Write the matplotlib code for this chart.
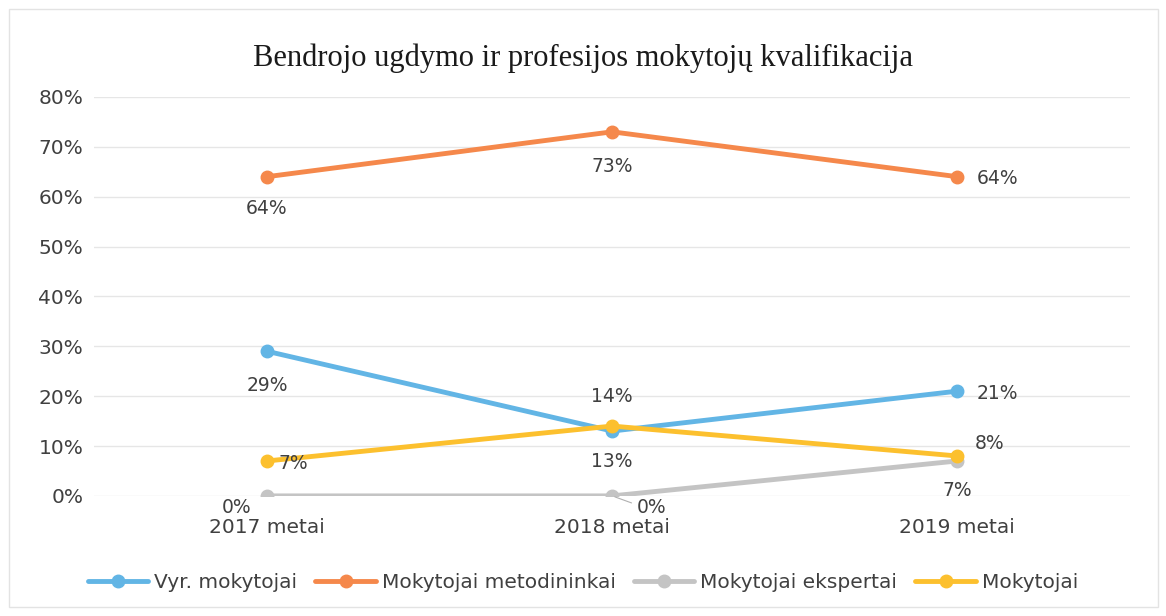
import matplotlib
matplotlib.use("Agg")
import matplotlib.pyplot as plt
from matplotlib.patches import Rectangle

# Data
years = ["2017 metai", "2018 metai", "2019 metai"]
series_names = ["Vyr. mokytojai", "Mokytojai metodininkai", "Mokytojai ekspertai", "Mokytojai"]
vyr = [0.29, 0.13, 0.21]
metodininkai = [0.64, 0.73, 0.64]
ekspertai = [0.00, 0.00, 0.07]
mokytojai = [0.07, 0.14, 0.08]

colors = ["#62b5e5", "#f5884b", "#c4c4c4", "#fcc02e"]

# label offsets in pixels (dx, dy) for each point
offsets = [
    [(0, -34), (0, -30), (40, -2)],
    [(0, -32), (0, -35), (40, -2)],
    [(-30, -12), (39, -12), (0, -30)],
    [(26, -3), (0, 30), (32, 12)],
]

label_font = ["Liberation Sans Narrow", "DejaVu Sans"]

fig = plt.figure(figsize=(11.66, 6.16), dpi=100)
ax = fig.add_axes([0.081, 0.195, 0.888, 0.6477])

# chart area border
fig.patches.append(Rectangle((0.008, 0.015), 0.985, 0.97, transform=fig.transFigure,
                             fill=False, edgecolor="#e3e3e3", linewidth=1))

x = list(range(len(years)))
all_series = [vyr, metodininkai, ekspertai, mokytojai]
for name, vals, col, offs in zip(series_names, all_series, colors, offsets):
    ax.plot(x, vals, color=col, linewidth=3.5, marker="o", markersize=9,
            solid_capstyle="round", label=name, zorder=3)
    for xi, v, (dx, dy) in zip(x, vals, offs):
        ax.annotate(f"{round(v * 100):.0f}%", (xi, v), xytext=(dx, dy),
                    textcoords="offset pixels", ha="center", va="center",
                    fontsize=13.5, color="#404040", family=label_font, zorder=4)

# small leader line for the 2018 ekspertai label
ax.annotate("", (1, ekspertai[1]), xytext=(22, -8), textcoords="offset pixels",
            arrowprops=dict(arrowstyle="-", color="#b0b0b0", lw=0.8))

ax.set_xlim(-0.5, 2.5)
ax.set_ylim(0, 0.8)
ax.set_yticks([i / 10 for i in range(9)])
ax.set_yticklabels([f"{i * 10}%" for i in range(9)], family=label_font,
                   fontsize=14.5, color="#404040")
ax.set_xticks(x)
ax.set_xticklabels(years, family=label_font, fontsize=14.5, color="#404040")
ax.tick_params(axis="both", length=0)
ax.tick_params(axis="x", pad=16)
ax.tick_params(axis="y", pad=8)
ax.grid(axis="y", color="#e6e6e6", linewidth=1)
ax.set_axisbelow(True)
for s in ax.spines.values():
    s.set_visible(False)

fig.text(0.5, 0.905, "Bendrojo ugdymo ir profesijos mokytojų kvalifikacija",
         ha="center", va="center", fontsize=22, family="Liberation Serif", color="#1a1a1a")

fig.legend(loc="center", bbox_to_anchor=(0.5, 0.055), ncol=4, frameon=False,
           prop={"family": label_font, "size": 14.5}, labelcolor="#404040",
           handlelength=3, columnspacing=0.9, handletextpad=0.3)

fig.savefig("out.png", dpi=100)
